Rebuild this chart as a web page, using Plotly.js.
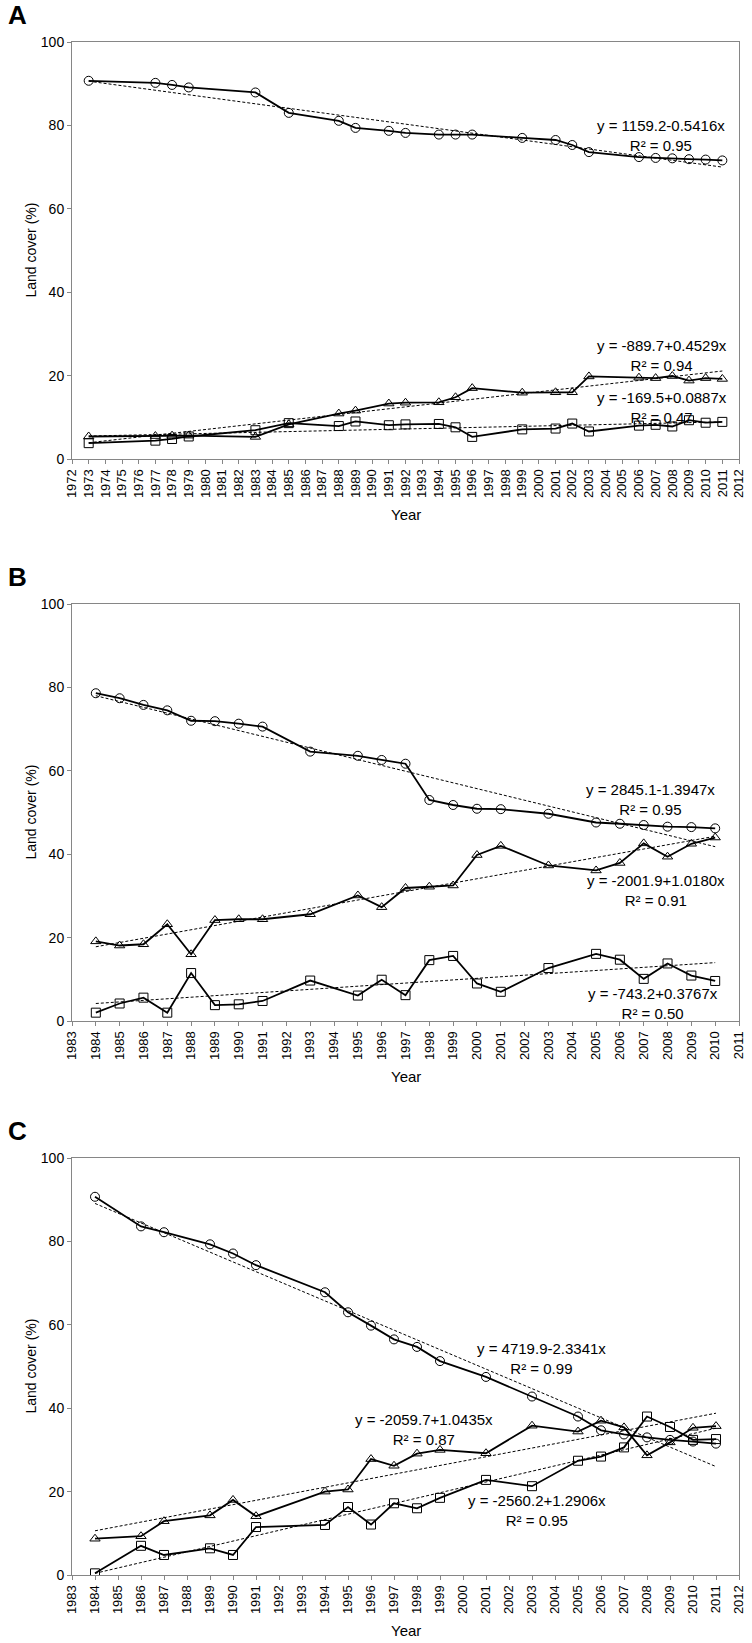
<!DOCTYPE html>
<html>
<head>
<meta charset="utf-8">
<script src="https://cdn.plot.ly/plotly-3.0.1.min.js"></script>
<style>html,body{margin:0;padding:0;background:#fff;}#chart{width:752px;height:1643px;}</style>
</head>
<body>
<div id="chart"></div>
<script>
// ---------- Panel A ----------
const yearsA = [1973,1977,1978,1979,1983,1985,1988,1989,1991,1992,1994,1995,1996,1999,2001,2002,2003,2006,2007,2008,2009,2010,2011];
const circA  = [90.7,90.2,89.7,89.1,87.9,83.0,81.1,79.4,78.7,78.2,77.8,77.8,77.8,77.0,76.5,75.3,73.6,72.4,72.2,72.1,71.9,71.8,71.6];
const triA   = [5.4,5.5,5.6,5.6,5.3,8.3,10.9,11.6,13.3,13.5,13.6,14.8,17.0,15.9,16.0,16.0,19.8,19.5,19.4,19.9,18.8,19.4,19.2];
const sqA    = [3.8,4.4,4.8,5.4,6.9,8.6,7.9,9.0,8.1,8.3,8.4,7.6,5.3,7.1,7.3,8.5,6.6,8.0,8.2,7.8,9.3,8.7,8.9];
const trendXA = [1973, 2011];
const trendCircA = [90.6, 70.0];
const trendTriA  = [3.9, 21.1];
const trendSqA   = [5.5, 8.9];
const eqA = ["y = 1159.2-0.5416x<br>R² = 0.95", "y = -889.7+0.4529x<br>R² = 0.94", "y = -169.5+0.0887x<br>R² = 0.47"];
const ticksA = [];
for (let y = 1972; y <= 2012; y++) ticksA.push(y);

// ---------- Panel B ----------
const yearsB = [1984,1985,1986,1987,1988,1989,1990,1991,1993,1995,1996,1997,1998,1999,2000,2001,2003,2005,2006,2007,2008,2009,2010];
const circB  = [78.6,77.4,75.8,74.5,72.0,71.9,71.3,70.6,64.6,63.6,62.6,61.7,53.0,51.8,50.9,50.8,49.7,47.6,47.3,47.0,46.6,46.5,46.2];
const triB   = [19.1,18.1,18.4,23.2,16.0,24.2,24.4,24.4,25.6,30.1,27.3,31.9,32.2,32.5,39.8,42.0,37.3,36.1,37.9,42.6,39.4,42.5,44.0];
const sqB    = [2.0,4.2,5.6,2.0,11.5,3.8,4.0,4.8,9.7,6.1,9.9,6.2,14.6,15.6,9.0,7.0,12.7,16.1,14.7,10.1,13.8,10.9,9.6];
const trendXB = [1984, 2010];
const trendCircB = [78.0, 41.8];
const trendTriB  = [17.8, 44.3];
const trendSqB   = [4.2, 14.0];
const eqB = ["y = 2845.1-1.3947x<br>R² = 0.95", "y = -2001.9+1.0180x<br>R² = 0.91", "y = -743.2+0.3767x<br>R² = 0.50"];
const ticksB = [];
for (let y = 1983; y <= 2011; y++) ticksB.push(y);

// ---------- Panel C ----------
const yearsC = [1984,1986,1987,1989,1990,1991,1994,1995,1996,1997,1998,1999,2001,2003,2005,2006,2007,2008,2009,2010,2011];
const circC  = [90.7,83.6,82.2,79.3,77.1,74.3,67.8,63.0,59.8,56.5,54.7,51.3,47.5,42.8,38.0,34.7,33.7,33.0,32.4,32.0,31.5];
const triC   = [8.7,9.3,12.9,14.3,18.0,14.1,20.0,20.5,27.8,26.2,29.1,30.0,29.2,35.8,34.4,37.0,35.4,28.7,31.8,35.3,35.7];
const sqC    = [0.4,7.0,4.8,6.4,4.8,11.5,12.0,16.3,12.1,17.2,16.0,18.5,22.8,21.3,27.4,28.4,30.6,38.0,35.5,32.4,32.6];
const trendXC = [1984, 2011];
const trendCircC = [89.1, 26.0];
const trendTriC  = [10.6, 38.8];
const trendSqC   = [0.4, 35.2];
const eqC = ["y = 4719.9-2.3341x<br>R² = 0.99", "y = -2059.7+1.0435x<br>R² = 0.87", "y = -2560.2+1.2906x<br>R² = 0.95"];
const ticksC = [];
for (let y = 1983; y <= 2012; y++) ticksC.push(y);

const yTicks = [0, 20, 40, 60, 80, 100];

// ---------- build ----------
const W = 752, H = 1643;
const NARROW = "Liberation Sans Narrow, Arial Narrow, Liberation Sans, Arial, sans-serif";
const REG = "Liberation Sans, Arial, sans-serif";
const AXC = "#868686";

const panels = [
  {name:"A", xs:yearsA, c:circA, t:triA, s:sqA, tx:trendXA, tc:trendCircA, tt:trendTriA, ts:trendSqA, eq:eqA,
   ticks:ticksA, range:[1972,2012], top:42, bottom:459,
   eqPos:[[2007.3,77.6],[2007.4,24.9],[2007.4,12.3]]},
  {name:"B", xs:yearsB, c:circB, t:triB, s:sqB, tx:trendXB, tc:trendCircB, tt:trendTriB, ts:trendSqB, eq:eqB,
   ticks:ticksB, range:[1983,2011], top:604, bottom:1021,
   eqPos:[[2007.3,53.1],[2007.5,31.4],[2007.4,4.3]]},
  {name:"C", xs:yearsC, c:circC, t:triC, s:sqC, tx:trendXC, tc:trendCircC, tt:trendTriC, ts:trendSqC, eq:eqC,
   ticks:ticksC, range:[1983,2012], top:1158, bottom:1575,
   eqPos:[[2003.4,51.8],[1998.3,34.9],[2003.2,15.4]]}
];

const left = 72, right = 739;
const traces = [];
const layout = {
  width: W, height: H,
  margin: {l:0, r:0, t:0, b:0},
  paper_bgcolor: "#ffffff", plot_bgcolor: "#ffffff",
  showlegend: false,
  annotations: []
};

panels.forEach((p, i) => {
  const xa = i === 0 ? "x" : "x" + (i + 1);
  const ya = i === 0 ? "y" : "y" + (i + 1);
  const xkey = i === 0 ? "xaxis" : "xaxis" + (i + 1);
  const ykey = i === 0 ? "yaxis" : "yaxis" + (i + 1);
  const series = [[p.c, p.tc, "circle"], [p.t, p.tt, "triangle-up"], [p.s, p.ts, "square"]];
  series.forEach(([vals, tr, sym]) => {
    traces.push({
      x: p.tx, y: tr, xaxis: xa, yaxis: ya, type: "scatter", mode: "lines",
      line: {color: "#000", width: 1, dash: "3px,2px"}, hoverinfo: "skip"
    });
  });
  series.forEach(([vals, tr, sym]) => {
    traces.push({
      x: p.xs, y: vals, xaxis: xa, yaxis: ya, type: "scatter", mode: "lines+markers",
      line: {color: "#000", width: 1.8},
      marker: {symbol: sym, size: 9, color: "rgba(255,255,255,0)",
               line: {color: "#000", width: 1}}
    });
  });

  const y0 = 1 - p.bottom / H, y1 = 1 - p.top / H;
  layout[xkey] = {
    domain: [left / W, right / W], anchor: ya, range: p.range,
    tickmode: "array", tickvals: p.ticks, ticktext: p.ticks.map(String),
    tickangle: -90, ticks: "outside", ticklen: 4, tickcolor: AXC,
    showline: true, linecolor: AXC, linewidth: 1, mirror: true,
    showgrid: false, zeroline: false,
    tickfont: {family: REG, size: 13, color: "#000"}
  };
  layout[ykey] = {
    domain: [y0, y1], anchor: xa, range: [0, 100],
    tickmode: "array", tickvals: yTicks, ticktext: yTicks.map(String),
    ticks: "outside", ticklen: 4, tickcolor: AXC,
    showline: true, linecolor: AXC, linewidth: 1, mirror: true,
    showgrid: false, zeroline: false,
    tickfont: {family: NARROW, size: 14, color: "#000"}
  };

  // panel letter
  layout.annotations.push({
    text: "<b>" + p.name + "</b>", xref: "paper", yref: "paper",
    x: 6 / W, y: 1 - (p.top - 27) / H, xanchor: "left", yanchor: "middle",
    showarrow: false, font: {family: NARROW, size: 26, color: "#000"}
  });
  // axis titles
  layout.annotations.push({
    text: "Year", xref: "paper", yref: "paper",
    x: ((left + right) / 2) / W, y: 1 - (p.bottom + 55) / H, xanchor: "center", yanchor: "middle",
    showarrow: false, font: {family: NARROW, size: 15, color: "#000"}
  });
  layout.annotations.push({
    text: "Land cover (%)", xref: "paper", yref: "paper", textangle: -90,
    x: 30 / W, y: 1 - ((p.top + p.bottom) / 2) / H, xanchor: "center", yanchor: "middle",
    showarrow: false, font: {family: REG, size: 14, color: "#000"}
  });
  // equations
  p.eq.forEach((t, k) => {
    layout.annotations.push({
      text: t, xref: xa, yref: ya, x: p.eqPos[k][0], y: p.eqPos[k][1],
      xanchor: "center", yanchor: "middle", align: "center", showarrow: false,
      font: {family: NARROW, size: 15, color: "#000"}
    });
  });
});

Plotly.newPlot("chart", traces, layout, {displayModeBar: false, staticPlot: true});
</script>
</body>
</html>
